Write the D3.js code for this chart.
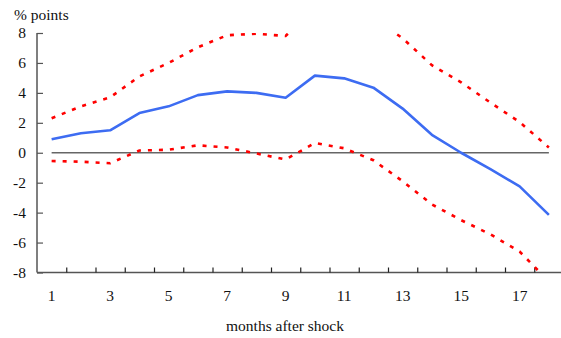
<!DOCTYPE html>
<html>
<head>
<meta charset="utf-8">
<script src="https://cdn.jsdelivr.net/npm/d3@7"></script>
<style>
  body { margin: 0; background: #fff; }
</style>
</head>
<body>
<svg id="chart" width="561" height="338"></svg>
<script>
// Impulse response (percentage points) by month after the shock
const months = d3.range(1, 19);
const response = [0.9, 1.3, 1.5, 2.65, 3.1, 3.85, 4.1, 4.0, 3.68, 5.15, 4.97, 4.35, 2.95, 1.2, 0.0, -1.1, -2.25, -4.15];
const upperBand = [2.3, 3.1, 3.7, 5.1, 6.0, 7.05, 7.85, 7.95, 7.8, 9.8, 9.7, 9.0, 7.65, 5.85, 4.7, 3.35, 2.05, 0.35];
const lowerBand = [-0.55, -0.6, -0.7, 0.15, 0.2, 0.5, 0.35, -0.05, -0.45, 0.65, 0.3, -0.5, -1.9, -3.45, -4.5, -5.45, -6.6, -8.6];
const yTicks = [-8, -6, -4, -2, 0, 2, 4, 6, 8];
const xLabels = [1, 3, 5, 7, 9, 11, 13, 15, 17];

const FONT = "'Liberation Serif', 'DejaVu Serif', 'Times New Roman', serif";

const svg = d3.select("#chart");
const plotLeft = 37, plotTop = 33, plotBottom = 272.5;

const x = d3.scaleLinear().domain([0.5, 18.5]).range([plotLeft, plotLeft + 18 * 29.25]);
const y = d3.scaleLinear().domain([-8, 8]).range([plotBottom, plotTop]);

svg.append("defs").append("clipPath").attr("id", "plot")
  .append("rect").attr("x", plotLeft).attr("y", plotTop)
  .attr("width", 561 - plotLeft).attr("height", plotBottom - plotTop);

const axisColor = "#555";

// Left axis with inward ticks
const yAxis = svg.append("g").attr("transform", `translate(${plotLeft},0)`)
  .call(d3.axisRight(y).tickValues(yTicks).tickSize(6).tickFormat(""));
yAxis.select(".domain").attr("stroke", axisColor).attr("stroke-width", 1.5).attr("d", `M0,${plotTop}V${plotBottom}`);
yAxis.selectAll(".tick line").attr("stroke", axisColor).attr("stroke-width", 1.2);

svg.append("g").selectAll("text").data(yTicks).join("text")
  .attr("x", 26).attr("y", d => y(d)).attr("dy", "0.35em")
  .attr("text-anchor", "end").attr("font-size", 15.5)
  .attr("font-family", FONT).attr("fill", "#111")
  .text(d => d);

// Bottom axis: ticks sit between months
const xAxis = svg.append("g").attr("transform", `translate(0,${plotBottom})`)
  .call(d3.axisTop(x).tickValues(d3.range(1.5, 18, 1)).tickSize(5).tickFormat(""));
xAxis.select(".domain").attr("stroke", axisColor).attr("stroke-width", 1.5).attr("d", `M${plotLeft},0H561`);
xAxis.selectAll(".tick line").attr("stroke", "#222").attr("stroke-width", 1.2);

svg.append("g").selectAll("text").data(xLabels).join("text")
  .attr("x", d => x(d)).attr("y", 301)
  .attr("text-anchor", "middle").attr("font-size", 15.5)
  .attr("font-family", FONT).attr("fill", "#111")
  .text(d => d);

svg.append("text").attr("x", 14).attr("y", 20).attr("font-size", 15.5)
  .attr("font-family", FONT).attr("fill", "#111").text("% points");
svg.append("text").attr("x", 285).attr("y", 331).attr("text-anchor", "middle")
  .attr("font-size", 15.5).attr("font-family", FONT).attr("fill", "#111")
  .text("months after shock");

// Zero reference line
svg.append("line")
  .attr("x1", x(1)).attr("x2", x(18)).attr("y1", y(0)).attr("y2", y(0))
  .attr("stroke", "#666").attr("stroke-width", 1.5);

const line = d3.line().x((d, i) => x(months[i])).y(d => y(d));
const plot = svg.append("g").attr("clip-path", "url(#plot)");

[upperBand, lowerBand].forEach(band => {
  plot.append("path").datum(band).attr("d", line)
    .attr("fill", "none").attr("stroke", "#ff0000").attr("stroke-width", 2.6)
    .attr("stroke-dasharray", "4,7");
});

plot.append("path").datum(response).attr("d", line)
  .attr("fill", "none").attr("stroke", "#3d6cf2").attr("stroke-width", 2.6)
  .attr("stroke-linejoin", "round");
</script>
</body>
</html>
